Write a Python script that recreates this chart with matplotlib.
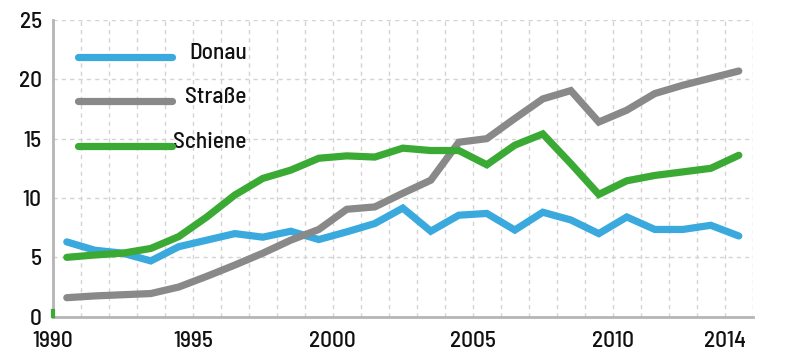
import matplotlib
matplotlib.use("Agg")
import matplotlib.pyplot as plt
import numpy as np

years = list(range(1990, 2015))
donau = [6.3, 5.6, 5.35, 4.7, 5.9, 6.45, 7.0, 6.7, 7.2, 6.5, 7.15, 7.85, 9.15, 7.2, 8.55, 8.7,
         7.3, 8.8, 8.15, 7.0, 8.4, 7.35, 7.35, 7.7, 6.8]
strasse = [1.6, 1.75, 1.85, 1.95, 2.5, 3.4, 4.35, 5.35, 6.45, 7.35, 9.05, 9.25, 10.4, 11.5, 14.7,
           15.0, 16.7, 18.35, 19.05, 16.4, 17.4, 18.8, 19.5, 20.1, 20.7]
schiene = [5.0, 5.2, 5.35, 5.75, 6.75, 8.4, 10.25, 11.65, 12.35, 13.35, 13.55, 13.45, 14.2, 14.0,
           14.0, 12.8, 14.45, 15.4, 12.9, 10.3, 11.45, 11.9, 12.2, 12.5, 13.6]
series_names = ["Donau", "Straße", "Schiene"]
colors = ["#3aa9de", "#898989", "#3aaa35"]
xtick_years = [1990, 1995, 2000, 2005, 2010, 2014]
yticks = [0, 5, 10, 15, 20, 25]

plt.rcParams['font.family'] = ['Barlow Semi Condensed', 'Roboto Condensed', 'DejaVu Sans']
plt.rcParams['font.weight'] = 'medium'
FS = 16.8

fig = plt.figure(figsize=(8, 3.58), dpi=100)
ax = fig.add_axes([0.066, 0.1154, 0.875, 0.8288])

x = np.arange(len(years)) + 0.5
for vals, c in zip([donau, strasse, schiene], colors):
    ax.plot(x, vals, color=c, lw=5.2, solid_capstyle='round', solid_joinstyle='miter', zorder=3)

ax.set_xlim(0, 25)
ax.set_ylim(0, 25)
ax.set_xticks([y - 1990 for y in xtick_years])
ax.set_xticklabels([str(y) for y in xtick_years])
ax.set_xticks(np.arange(0, 26), minor=True)
ax.set_yticks(yticks)
ax.tick_params(axis='both', which='both', length=0, labelsize=FS, labelcolor='#111111')
ax.tick_params(axis='x', pad=10.5)
ax.tick_params(axis='y', pad=8)

ax.grid(True, which='both', axis='x', color='#d3d3d3', ls=(0, (3, 3)), lw=1)
ax.grid(True, which='major', axis='y', color='#d3d3d3', ls=(0, (3, 3)), lw=1)
ax.set_axisbelow(True)

for side in ['top', 'right']:
    ax.spines[side].set_visible(False)
for side in ['left', 'bottom']:
    ax.spines[side].set_color('#b5b5b5')
    ax.spines[side].set_linewidth(2)

ax.plot([0, 0], [0.05, 0.5], color=colors[2], lw=3, clip_on=False, zorder=4)

leg_y = [0.876, 0.727, 0.576]
for name, c, yy in zip(series_names, colors, leg_y):
    ax.plot([0.036, 0.17], [yy, yy], transform=ax.transAxes, color=c, lw=5.2,
            solid_capstyle='round', zorder=4)
    ax.text(0.277, yy + 0.012, name, transform=ax.transAxes, ha='right', va='center',
            fontsize=FS, color='#111111')

fig.savefig("out.png", dpi=100)
